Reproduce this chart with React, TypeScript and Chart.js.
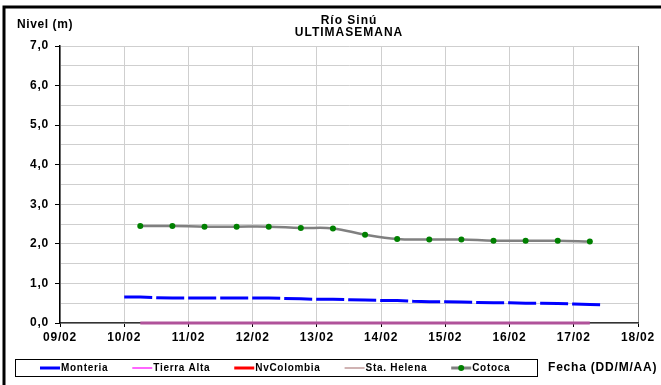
import React, { useEffect, useRef } from 'react';
import { Chart, registerables } from 'chart.js';

Chart.register(...registerables);

// ---- data ----
const titleLines = ['Río Sinú', 'ULTIMASEMANA'];
const yAxisTitle = 'Nivel (m)';
const xAxisTitle = 'Fecha (DD/M/AA)';

const xTickLabels = ['09/02', '10/02', '11/02', '12/02', '13/02', '14/02', '15/02', '16/02', '17/02', '18/02'];
const yTickLabels = ['0,0', '1,0', '2,0', '3,0', '4,0', '5,0', '6,0', '7,0'];

const seriesNames = ['Monteria', 'Tierra Alta', 'NvColombia', 'Sta. Helena', 'Cotoca'];

// x values are days since 09/02 00:00
const monteriaDays = [1.0, 1.25, 1.5, 1.75, 2.0, 2.25, 2.5, 2.75, 3.0, 3.25, 3.5, 3.75, 4.0, 4.25, 4.5, 4.75, 5.0, 5.25, 5.5, 5.75, 6.0, 6.25, 6.5, 6.75, 7.0, 7.25, 7.5, 7.75, 8.0, 8.25, 8.45];
const monteriaLevels = [0.655, 0.655, 0.64, 0.63, 0.63, 0.63, 0.63, 0.63, 0.63, 0.63, 0.62, 0.61, 0.6, 0.6, 0.59, 0.58, 0.57, 0.57, 0.55, 0.54, 0.54, 0.53, 0.52, 0.51, 0.51, 0.5, 0.5, 0.49, 0.48, 0.47, 0.46];

const tierraAltaDays = [1.25, 1.75, 2.25, 2.75, 3.25, 3.75, 4.25, 4.75, 5.25, 5.75, 6.25, 6.75, 7.25, 7.75, 8.25];
const tierraAltaLevels = [0, 0, 0, 0, 0, 0, 0, 0, 0, 0, 0, 0, 0, 0, 0];

const nvColombiaDays: number[] = [];
const nvColombiaLevels: number[] = [];

const staHelenaDays: number[] = [];
const staHelenaLevels: number[] = [];

const cotocaDays = [1.25, 1.75, 2.25, 2.75, 3.25, 3.75, 4.25, 4.75, 5.25, 5.75, 6.25, 6.75, 7.25, 7.75, 8.25];
const cotocaLevels = [2.45, 2.45, 2.435, 2.435, 2.435, 2.4, 2.39, 2.23, 2.12, 2.11, 2.11, 2.08, 2.08, 2.08, 2.06];

// ---- styles ----
const FONT = "'Liberation Sans', Arial, sans-serif";
const lineColors = ['#0000ff', '#b0529a', '#ff0000', '#b08a8a', '#808080'];
const legendColors = ['#0000ff', '#ff66ff', '#ff0000', '#c09a9a', '#808080'];
const legendWidths = [3, 2, 3, 1.5, 3];

const pts = (xs: number[], ys: number[]) => xs.map((x, i) => ({ x, y: ys[i] }));

const isInt = (v: number) => Math.abs(v - Math.round(v)) < 1e-6;

const extrasPlugin = {
  id: 'extras',
  beforeDraw(chart: any) {
    chart.ctx.letterSpacing = '0.8px';
  },
  afterDraw(chart: any) {
    const ctx = chart.ctx as CanvasRenderingContext2D & { letterSpacing: string };
    const area = chart.chartArea;
    ctx.save();
    // outer frame
    ctx.strokeStyle = '#000';
    ctx.lineWidth = 3;
    ctx.beginPath();
    ctx.moveTo(4, 385);
    ctx.lineTo(4, 7);
    ctx.lineTo(661, 7);
    ctx.stroke();

    // title
    ctx.fillStyle = '#000';
    ctx.textBaseline = 'middle';
    ctx.textAlign = 'center';
    ctx.font = `bold 12px ${FONT}`;
    ctx.letterSpacing = '1px';
    const cx = (area.left + area.right) / 2;
    ctx.fillText(titleLines[0], cx, 21);
    ctx.fillText(titleLines[1], cx, 33);

    // y axis title
    ctx.textAlign = 'left';
    ctx.letterSpacing = '0.6px';
    ctx.fillText(yAxisTitle, 17, 25);

    // x axis title
    ctx.font = `bold 12px ${FONT}`;
    ctx.letterSpacing = '0.8px';
    ctx.fillText(xAxisTitle, 548, 368);

    // legend box
    ctx.lineWidth = 1;
    ctx.strokeStyle = '#000';
    ctx.strokeRect(15.5, 359.5, 522, 17);

    // legend items
    ctx.font = `bold 10px ${FONT}`;
    ctx.letterSpacing = '0.7px';
    let x = 40;
    const ly = 368;
    seriesNames.forEach((name, i) => {
      ctx.strokeStyle = legendColors[i];
      ctx.lineWidth = legendWidths[i];
      ctx.beginPath();
      ctx.moveTo(x, ly);
      ctx.lineTo(x + 20, ly);
      ctx.stroke();
      if (i === 4) {
        ctx.fillStyle = '#008000';
        ctx.beginPath();
        ctx.arc(x + 10, ly, 3, 0, Math.PI * 2);
        ctx.fill();
      }
      ctx.fillStyle = '#000';
      ctx.fillText(name, x + 21, ly);
      x += 21 + ctx.measureText(name).width + 24;
    });
    ctx.restore();
  },
};

export default function App() {
  const ref = useRef<HTMLCanvasElement | null>(null);

  useEffect(() => {
    if (!ref.current) return;
    const chart = new Chart(ref.current, {
      type: 'line',
      data: {
        datasets: [
          {
            label: seriesNames[0],
            data: pts(monteriaDays, monteriaLevels),
            borderColor: lineColors[0],
            borderWidth: 3,
            borderDash: [28, 4],
            pointRadius: 0,
            tension: 0,
          },
          {
            label: seriesNames[1],
            data: pts(tierraAltaDays, tierraAltaLevels),
            borderColor: lineColors[1],
            borderWidth: 3,
            pointRadius: 0,
            clip: false,
          },
          {
            label: seriesNames[2],
            data: pts(nvColombiaDays, nvColombiaLevels),
            borderColor: lineColors[2],
            borderWidth: 3,
            pointRadius: 0,
          },
          {
            label: seriesNames[3],
            data: pts(staHelenaDays, staHelenaLevels),
            borderColor: lineColors[3],
            borderWidth: 1.5,
            pointRadius: 0,
          },
          {
            label: seriesNames[4],
            data: pts(cotocaDays, cotocaLevels),
            borderColor: lineColors[4],
            borderWidth: 2.5,
            tension: 0.4,
            pointRadius: 3,
            pointBackgroundColor: '#008000',
            pointBorderColor: '#008000',
            pointBorderWidth: 0,
          },
        ],
      },
      options: {
        responsive: false,
        animation: false,
        devicePixelRatio: 1,
        layout: { padding: { top: 46, left: 0, right: 23, bottom: 0 } },
        plugins: {
          legend: { display: false },
          title: { display: false },
          tooltip: { enabled: false },
        },
        scales: {
          x: {
            type: 'linear',
            min: 0,
            max: 9,
            afterFit: (s: any) => {
              s.height = 62;
            },
            ticks: {
              stepSize: 1,
              autoSkip: false,
              maxRotation: 0,
              padding: 3,
              color: '#000',
              font: { family: FONT, size: 12, weight: 'bold' },
              callback: (v: any) => xTickLabels[Math.round(Number(v))] ?? '',
            },
            grid: {
              color: (c: any) => (c.index === 9 ? '#8c8c8c' : '#cfcfcf'),
              tickColor: '#000',
              tickLength: 4,
              lineWidth: 1,
            },
            border: { color: '#333', width: 1.5 },
          },
          y: {
            type: 'linear',
            min: 0,
            max: 7,
            afterFit: (s: any) => {
              s.width = 60;
            },
            ticks: {
              stepSize: 0.5,
              autoSkip: false,
              padding: 6,
              color: '#000',
              font: { family: FONT, size: 12, weight: 'bold' },
              callback: (v: any) => {
                const n = Number(v);
                return isInt(n) ? yTickLabels[Math.round(n)] : '';
              },
            },
            grid: {
              color: '#cfcfcf',
              tickColor: (c: any) => (c.tick && isInt(c.tick.value) ? '#000' : 'rgba(0,0,0,0)'),
              tickLength: 5,
              lineWidth: 1,
            },
            border: { color: '#000', width: 1.5 },
          },
        },
      },
      plugins: [extrasPlugin],
    } as any);
    return () => chart.destroy();
  }, []);

  return (
    <div style={{ position: 'fixed', left: 0, top: 0, width: 661, height: 385, background: '#fff' }}>
      <canvas ref={ref} width={661} height={385} style={{ display: 'block' }} />
    </div>
  );
}
